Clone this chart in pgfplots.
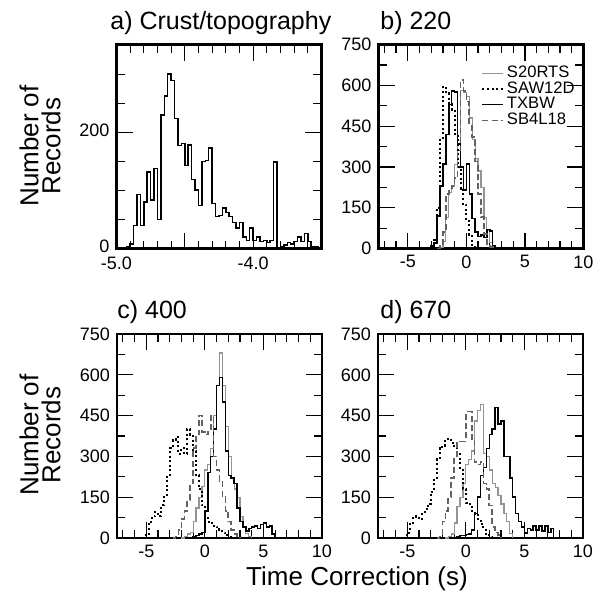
\documentclass[border=0pt]{standalone}
\usepackage{pgfplots}
\pgfplotsset{compat=1.18}
\usepackage{fontspec}
\setmainfont{Liberation Sans}
\definecolor{lgray}{gray}{0.58}
\definecolor{dgray}{gray}{0.38}
\pgfplotsset{
  panel/.style={scale only axis, width=102.5pt, height=102pt,
    axis line style={line width=1.1pt},
    tick align=inside, tick pos=both,
    major tick length=8pt, minor tick length=4pt,
    every tick/.append style={black, line width=0.6pt},
    tick label style={font=\fontsize{9}{10}\selectfont},
    /pgf/number format/assume math mode=true,
    clip=true},
  hpanel/.style={panel, xmin=-7.5, xmax=10, ymin=0, ymax=750,
    xtick={-5,0,5,10}, xticklabels={-5,0,5,10},
    minor xtick={-7,-6,-4,-3,-2,-1,1,2,3,4,6,7,8,9},
    ytick={0,150,300,450,600,750}, yticklabels={0,150,300,450,600,750},
    minor ytick={75,225,375,525,675}},
  s20/.style={const plot, no marks, color=lgray, line width=0.6pt},
  saw/.style={const plot, no marks, black, line width=1pt, dash pattern=on 1pt off 1.3pt},
  txbw/.style={const plot, no marks, black, line width=0.75pt},
  sb4/.style={const plot, no marks, color=dgray, line width=0.8pt, dash pattern=on 3pt off 1.6pt},
}
\begin{document}
\begin{tikzpicture}
\useasboundingbox (0pt,0pt) rectangle (300pt,-300.5pt);

% panel a
\begin{axis}[panel, at={(58.25pt,-124.25pt)}, anchor=south west,
  xmin=-5, xmax=-3.5, ymin=0, ymax=352,
  xtick={-5,-4.5,-4,-3.5}, xticklabels={-5.0,,-4.0,},
  minor xtick={-4.9,-4.8,-4.7,-4.6,-4.4,-4.3,-4.2,-4.1,-3.9,-3.8,-3.7,-3.6},
  ytick={0,200}, yticklabels={0,200},
  yticklabel style={yshift=1.2pt},
  xticklabel style={yshift=-0.8pt},
  minor ytick={50,100,150,250,300,350}]
\addplot[txbw] coordinates {
(-5.000,0)(-4.975,0)(-4.950,0)(-4.925,3)(-4.900,8)(-4.875,40)(-4.850,93)(-4.825,40)
(-4.800,80)(-4.775,132)(-4.750,84)(-4.725,138)(-4.700,50)(-4.675,230)(-4.650,263)
(-4.625,301)(-4.600,290)(-4.575,224)(-4.550,178)(-4.525,181)(-4.500,143)(-4.475,179)
(-4.450,119)(-4.425,101)(-4.400,74)(-4.375,150)(-4.350,152)(-4.325,173)(-4.300,78)
(-4.275,55)(-4.250,57)(-4.225,70)(-4.200,62)(-4.175,55)(-4.150,45)(-4.125,35)
(-4.100,45)(-4.075,20)(-4.050,14)(-4.025,35)(-4.000,14)(-3.975,20)(-3.950,12)
(-3.925,14)(-3.900,10)(-3.875,14)(-3.850,149)(-3.825,0)(-3.800,3)(-3.775,6)
(-3.750,10)(-3.725,8)(-3.700,12)(-3.675,20)(-3.650,12)(-3.625,26)(-3.600,12)
(-3.575,3)(-3.550,3)(-3.525,0)(-3.500,0)};
\end{axis}

% panel b
\begin{axis}[hpanel, at={(189.25pt,-124.25pt)}, anchor=south west,
  legend style={at={(0.5,0.905)}, anchor=north west, draw=none, fill=none,
    font=\fontsize{8.3}{9}\selectfont, inner sep=0pt, row sep=-1pt,
    column sep=0.5pt, nodes={inner sep=0.8pt}},
  legend cell align=left,
  legend image code/.code={\draw[#1] (0pt,0pt) -- (10.5pt,0pt);}]
\addplot[s20] coordinates {(-2.5,0)(-2.25,5)(-2.0,25)(-1.75,115)(-1.5,205)(-1.25,230)(-1.0,310)(-0.75,385)(-0.5,580)(-0.25,575)(0,560)(0.25,480)(0.5,400)(0.75,330)(1.0,285)(1.25,225)(1.5,115)(1.75,66)(2.0,23)(2.25,8)(2.5,0)};
\addlegendentry{S20RTS}
\addplot[saw] coordinates {(-3.25,0)(-3.0,8)(-2.75,30)(-2.5,150)(-2.25,400)(-2.0,595)(-1.75,570)(-1.5,530)(-1.25,510)(-1.0,420)(-0.75,300)(-0.5,220)(-0.25,160)(0,100)(0.25,50)(0.5,12)(0.75,5)(1.0,0)};
\addlegendentry{SAW12D}
\addplot[txbw] coordinates {(-3.0,0)(-2.75,20)(-2.5,120)(-2.25,230)(-2.0,310)(-1.75,420)(-1.5,530)(-1.25,580)(-1.0,575)(-0.75,385)(-0.5,300)(-0.25,215)(0,310)(0.25,200)(0.5,110)(0.75,60)(1.0,45)(1.25,50)(1.5,40)(1.75,70)(2.0,65)(2.25,10)(2.5,0)};
\addlegendentry{TXBW}
\addplot[sb4] coordinates {(-2.5,0)(-2.25,10)(-2.0,60)(-1.75,200)(-1.5,220)(-1.25,230)(-1.0,260)(-0.75,360)(-0.5,620)(-0.25,580)(0,540)(0.25,450)(0.5,410)(0.75,320)(1.0,200)(1.25,115)(1.5,54)(1.75,17)(2.0,5)(2.25,0)};
\addlegendentry{SB4L18}
\end{axis}

% panel c
\begin{axis}[hpanel, at={(58.5pt,-269pt)}, anchor=south west]
\addplot[s20] coordinates {(-2.0,0)(-1.75,5)(-1.5,15)(-1.25,20)(-1.0,60)(-0.75,110)(-0.5,150)(-0.25,190)(0,250)(0.25,270)(0.5,330)(0.75,450)(1.0,560)(1.25,680)(1.5,560)(1.75,410)(2.0,300)(2.25,220)(2.5,180)(2.75,150)(3.0,80)(3.25,40)(3.5,17)(3.75,5)(4.0,0)};
\addplot[saw] coordinates {(-5.25,0)(-5.0,10)(-4.75,60)(-4.5,80)(-4.25,95)(-4.0,80)(-3.75,120)(-3.5,150)(-3.25,230)(-3.0,330)(-2.75,360)(-2.5,370)(-2.25,310)(-2.0,330)(-1.75,310)(-1.5,400)(-1.25,380)(-1.0,320)(-0.75,230)(-0.5,180)(-0.25,120)(0,75)(0.25,60)(0.5,55)(0.75,45)(1.0,40)(1.25,30)(1.5,20)(1.75,10)(2.0,5)(2.25,0)};
\addplot[txbw] coordinates {(-1.25,0)(-1.0,5)(-0.75,10)(-0.5,15)(-0.25,20)(0,100)(0.25,240)(0.5,300)(0.75,400)(1.0,560)(1.25,590)(1.5,500)(1.75,320)(2.0,230)(2.25,220)(2.5,200)(2.75,110)(3.0,60)(3.25,40)(3.5,25)(3.75,35)(4.0,40)(4.25,45)(4.5,35)(4.75,50)(5.0,55)(5.25,40)(5.5,45)(5.75,15)(6.0,0)};
\addplot[sb4] coordinates {(-2.75,0)(-2.5,5)(-2.25,30)(-2.0,70)(-1.75,100)(-1.5,140)(-1.25,200)(-1.0,330)(-0.75,380)(-0.5,450)(-0.25,390)(0,380)(0.25,390)(0.5,450)(0.75,300)(1.0,250)(1.25,210)(1.5,150)(1.75,100)(2.0,60)(2.25,30)(2.5,15)(2.75,5)(3.0,0)};
\end{axis}

% panel d
\begin{axis}[hpanel, at={(189pt,-269pt)}, anchor=south west]
\addplot[s20] coordinates {(-1.75,0)(-1.5,5)(-1.25,15)(-1.0,55)(-0.75,115)(-0.5,150)(-0.25,200)(0,270)(0.25,290)(0.5,320)(0.75,430)(1.0,470)(1.25,490)(1.5,310)(1.75,300)(2.0,250)(2.25,200)(2.5,185)(2.75,155)(3.0,125)(3.25,90)(3.5,60)(3.75,18)(4.0,0)};
\addplot[saw] coordinates {(-5.25,0)(-5.0,20)(-4.75,55)(-4.5,75)(-4.25,80)(-4.0,70)(-3.75,90)(-3.5,105)(-3.25,125)(-3.0,170)(-2.75,220)(-2.5,290)(-2.25,330)(-2.0,340)(-1.75,365)(-1.5,360)(-1.25,350)(-1.0,330)(-0.75,310)(-0.5,250)(-0.25,180)(0,130)(0.25,125)(0.5,100)(0.75,90)(1.0,70)(1.25,50)(1.5,30)(1.75,15)(2.0,5)(2.25,0)};
\addplot[txbw] coordinates {(-1.0,0)(-0.75,5)(-0.5,10)(-0.25,10)(0,12)(0.25,15)(0.5,30)(0.75,90)(1.0,150)(1.25,230)(1.5,260)(1.75,330)(2.0,380)(2.25,400)(2.5,480)(2.75,420)(3.0,430)(3.25,300)(3.5,300)(3.75,220)(4.0,150)(4.25,90)(4.5,60)(4.75,40)(5.0,18)(5.25,35)(5.5,30)(5.75,45)(6.0,30)(6.25,45)(6.5,25)(6.75,45)(7.0,20)(7.25,35)(7.5,0)};
\addplot[sb4] coordinates {(-2.5,0)(-2.25,5)(-2.0,60)(-1.75,100)(-1.5,150)(-1.25,220)(-1.0,300)(-0.75,350)(-0.5,355)(-0.25,355)(0,465)(0.25,465)(0.5,360)(0.75,280)(1.0,270)(1.25,280)(1.5,200)(1.75,180)(2.0,120)(2.25,40)(2.5,20)(2.75,10)(3.0,0)};
\end{axis}

% titles and labels
\node[anchor=base west, font=\fontsize{12.5}{14}\selectfont, inner sep=0pt] at (55pt,-14.5pt) {a) Crust/topography};
\node[anchor=base west, font=\fontsize{12.5}{14}\selectfont, inner sep=0pt] at (190pt,-14.5pt) {b) 220};
\node[anchor=base west, font=\fontsize{12.5}{14}\selectfont, inner sep=0pt] at (58.5pt,-159pt) {c) 400};
\node[anchor=base west, font=\fontsize{12.5}{14}\selectfont, inner sep=0pt] at (190pt,-159pt) {d) 670};
\node[rotate=90, align=center, font=\fontsize{13}{11}\selectfont, inner sep=0pt] at (20pt,-73pt) {Number of\\Records};
\node[rotate=90, align=center, font=\fontsize{13}{11}\selectfont, inner sep=0pt] at (20pt,-217.5pt) {Number of\\Records};
\node[anchor=base, font=\fontsize{13}{14}\selectfont, inner sep=0pt] at (178.5pt,-292.5pt) {Time Correction (s)};
\end{tikzpicture}
\end{document}
